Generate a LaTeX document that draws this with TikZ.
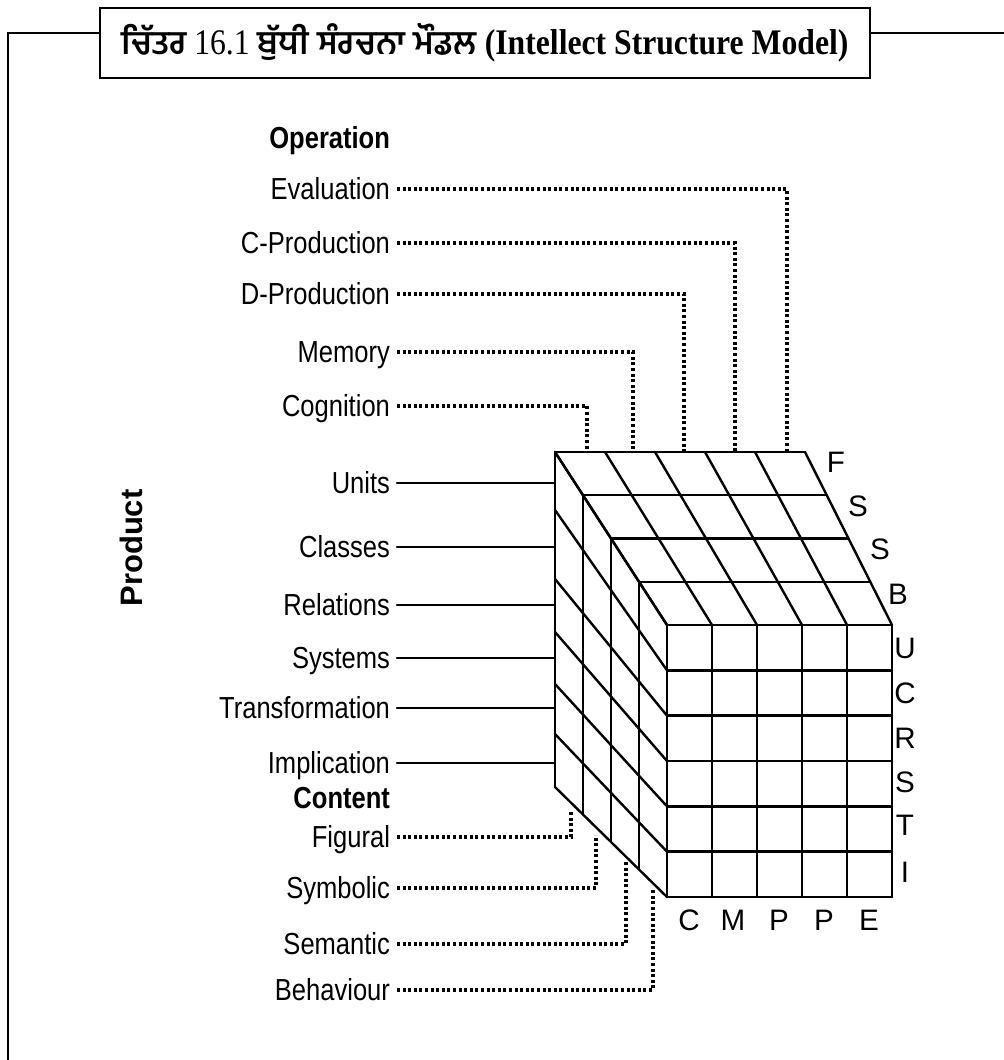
\documentclass[tikz,border=0pt]{standalone}
\usepackage{fontspec}
\setmainfont{Liberation Serif}
\newfontfamily\titlefont[FakeStretch=0.88]{Liberation Serif}
\newfontfamily\labelfont[FakeStretch=0.84]{Liberation Sans}
\newfontfamily\plainsans{Liberation Sans}
\newfontfamily\gurfont[Script=Gurmukhi]{Hind Jalandhar}
\usetikzlibrary{calc, positioning}

\begin{document}
\begin{tikzpicture}[x=0.5pt, y=-0.5pt,
    lbl/.style={font=\labelfont\fontsize{15.2}{17}\selectfont, anchor=east, text height=10.8pt, text depth=0pt},
    head/.style={lbl, font=\labelfont\bfseries\fontsize{15.2}{17}\selectfont},
    letter/.style={font=\plainsans\fontsize{14.8}{16}\selectfont, text height=10.6pt, text depth=0pt, inner sep=0pt},
    cubeline/.style={line width=1.2pt, line cap=round},
    dotline/.style={line width=1.6pt, dash pattern=on 1.5pt off 1.3pt},
    frameline/.style={line width=1pt}]
  \useasboundingbox (0,0) rectangle (1004,1060);

  % title and frame
  \node[draw, frameline, minimum width=385pt, minimum height=35pt, font=\titlefont\fontsize{18}{20}\selectfont] (title) at (485,43)
    {{\gurfont\bfseries\fontsize{16.5}{20}\selectfont ਚਿੱਤਰ} 16.1 {\gurfont\bfseries\fontsize{16.5}{20}\selectfont ਬੁੱਧੀ ਸੰਰਚਨਾ ਮੌਡਲ} \textbf{(Intellect Structure Model)}};
  \coordinate (fl) at (8,33);
  \coordinate (fr) at (1004,33);
  \coordinate (fb) at (8,1060);
  \draw[frameline] (title.west |- fl) -- (fl) -- (fb);
  \draw[frameline] (title.east |- fl) -- (fr);

  % cube corners
  \coordinate (A) at (555,452);
  \coordinate (B) at (805,452);
  \coordinate (C) at (667,625);
  \coordinate (D) at (892,625);
  \coordinate (E) at (667,897);
  \coordinate (F) at (892,897);
  \coordinate (G) at (555,787);

  % top face
  \foreach \k in {0,...,4}
    \draw[cubeline] ($(A)!\k/4!(C)$) -- ($(B)!\k/4!(D)$);
  \foreach \j in {0,...,5}
    \draw[cubeline] ($(A)!\j/5!(B)$) -- ($(C)!\j/5!(D)$);
  % front face
  \foreach \i in {0,...,6}
    \draw[cubeline] ($(C)!\i/6!(E)$) -- ($(D)!\i/6!(F)$);
  \foreach \j in {0,...,5}
    \draw[cubeline] ($(C)!\j/5!(D)$) -- ($(E)!\j/5!(F)$);
  % left face
  \foreach \k in {0,...,4}
    \draw[cubeline] ($(A)!\k/4!(C)$) -- ($(G)!\k/4!(E)$);
  \foreach \yb [count=\i from 0] in {452,510,579,632,684,734,787}
    \draw[cubeline] (555,\yb) -- ($(C)!\i/6!(E)$);

  % operation
  \node[head] (operation) at (397,138) {Operation};
  \foreach \nm/\txt/\yy/\xx in {evaluation/Evaluation/189/787, cproduction/C-Production/243/735,
      dproduction/D-Production/294/684, memory/Memory/352/633, cognition/Cognition/406/587} {
    \node[lbl] (\nm) at (397,\yy) {\txt};
    \coordinate (\nm-end) at (\xx,452);
    \draw[dotline] (\nm) -| (\nm-end);
  }

  % product
  \node[rotate=90, font=\plainsans\bfseries\fontsize{15.5}{18}\selectfont] (product) at (131,548) {Product};
  \foreach \nm/\txt/\yy in {units/Units/483, classes/Classes/547, relations/Relations/605,
      systems/Systems/658, transformation/Transformation/708, implication/Implication/763} {
    \node[lbl] (\nm) at (397,\yy) {\txt};
    \coordinate (\nm-end) at (555,\yy);
    \draw[cubeline] (\nm) -- (\nm-end);
  }

  % content
  \node[head] (content) at (397,798) {Content};
  \foreach \nm/\txt/\yy/\xx/\ye in {figural/Figural/837/571/811, symbolic/Symbolic/888/596/835,
      semantic/Semantic/944/626/862, behaviour/Behaviour/990/653/889} {
    \node[lbl] (\nm) at (397,\yy) {\txt};
    \coordinate (\nm-end) at (\xx,\ye);
    \draw[dotline] (\nm) -| (\nm-end);
  }

  % letters
  \node[letter] (fl-f) at (836,462) {F};
  \node[letter] (fl-s) at (858,506) {S};
  \node[letter] (fl-s2) at (880,549) {S};
  \node[letter] (fl-b) at (898,594) {B};
  \foreach \nm/\txt/\yy in {u/U/648, c/C/693, r/R/738, s/S/782, t/T/825, i/I/872}
    \node[letter] (pr-\nm) at (905,\yy) {\txt};
  \foreach \nm/\txt/\xx in {c/C/689, m/M/733, p/P/779, p2/P/824, e/E/869}
    \node[letter] (op-\nm) at (\xx,920) {\txt};
\end{tikzpicture}
\end{document}
